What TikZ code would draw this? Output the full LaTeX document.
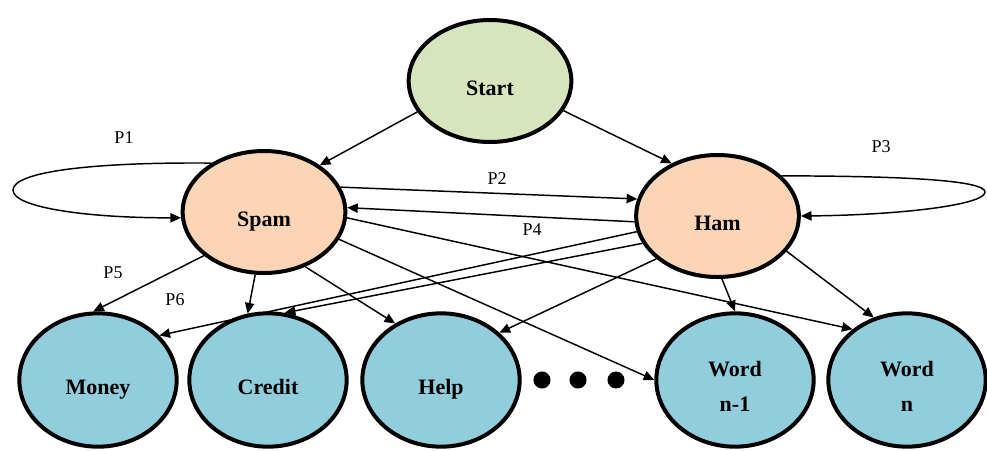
\documentclass[tikz,border=0pt]{standalone}
\usepackage{fontspec}
\setmainfont{Liberation Serif}
\usepackage{xcolor}
\usetikzlibrary{shapes.geometric}
\usetikzlibrary{arrows.meta}

\definecolor{startgreen}{HTML}{D7E4BD}
\definecolor{classpeach}{HTML}{FBD5B5}
\definecolor{wordblue}{HTML}{92CDDC}

\newcommand{\nodetext}[1]{\raisebox{-11pt}[0pt][0pt]{\begin{tabular}{@{}c@{}}#1\end{tabular}}}

\begin{document}
\begin{tikzpicture}[x=0.75pt,y=-0.75pt,
    state/.style={ellipse,draw,line width=3pt,inner sep=0pt,
      font=\fontsize{16.5}{20}\selectfont\bfseries},
    topstate/.style={state,minimum width=122pt,minimum height=91.5pt},
    wordstate/.style={state,minimum width=118pt,minimum height=100pt,fill=wordblue},
    edge/.style={line width=1.1pt,-{Triangle[length=8pt,width=7pt]}},
    plabel/.style={font=\fontsize{13.5}{16}\selectfont}]
      \useasboundingbox (0,0) rectangle (987,450);

      \node[topstate,fill=startgreen] (start) at (490,81) {\nodetext{Start}};
      \node[topstate,fill=classpeach] (spam) at (264,212) {\nodetext{Spam}};
      \node[topstate,fill=classpeach] (ham) at (717.5,216) {\nodetext{Ham}};

      \node[wordstate] (money) at (98,380) {\nodetext{Money}};
      \node[wordstate] (credit) at (268,380) {\nodetext{Credit}};
      \node[wordstate] (help) at (441,380) {\nodetext{Help}};
      \node[wordstate] (worda) at (735,380) {\nodetext{Word\\[6pt]n-1}};
      \node[wordstate] (wordb) at (907,380) {\nodetext{Word\\[6pt]n}};

      \fill (542,380) circle (6.4pt);
      \fill (578,380) circle (6.4pt);
      \fill (616,380) circle (6.4pt);

      \draw[edge] (start.203.8) -- (spam.40.3);
      \draw[edge] (start.338.3) -- (ham.131.5);

      \draw[edge] (spam.137) .. controls (90,162) and (13,172) .. (13,190)
        .. controls (13,208) and (90,218) .. (spam.184);
      \draw[edge] (ham.32) .. controls (900,176) and (985,180) .. (985,192)
        .. controls (985,205) and (900,215) .. (ham.0);

      \draw[edge] (spam.18.9) -- (ham.168);
      \draw[edge] (ham.184.7) -- (spam.3.3);

      \draw[edge] (spam.216.6) -- (money.94.1);
      \draw[edge] (spam.262.1) -- (credit.107.2);
      \draw[edge] (spam.307.5) -- (help.129.6);
      \draw[edge] (spam.340.5) -- (worda.180);
      \draw[edge] (spam.356) -- (wordb.137.6);

      \draw[edge] (ham.191.4) -- (money.36.7);
      \draw[edge] (ham.200.5) -- (credit.76.4);
      \draw[edge] (ham.215.5) -- (help.39.1);
      \draw[edge] (ham.274) -- (worda.90);
      \draw[edge] (ham.333) -- (wordb.118.4);

      \node[plabel] (p1) at (124,138) {P1};
      \node[plabel] (p2) at (497,179) {P2};
      \node[plabel] (p3) at (881,147) {P3};
      \node[plabel] (p4) at (532,230) {P4};
      \node[plabel] (p5) at (113,273) {P5};
      \node[plabel] (p6) at (175,300) {P6};
    \end{tikzpicture}
\end{document}
